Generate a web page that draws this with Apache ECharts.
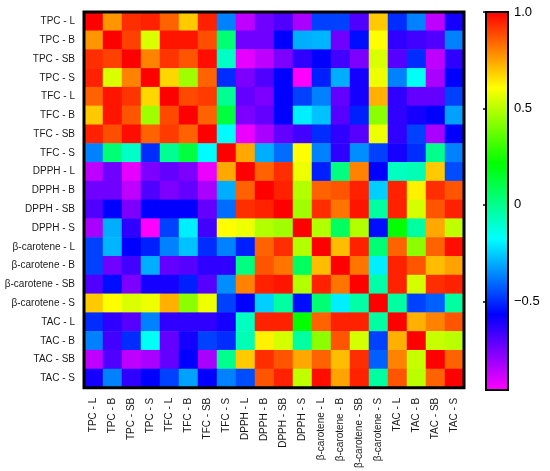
<!DOCTYPE html>
<html>
<head>
<meta charset="utf-8">
<script src="https://cdn.jsdelivr.net/npm/echarts@6/dist/echarts.min.js"></script>
<style>
  html, body { margin: 0; padding: 0; background: #fff; }
  #chart { width: 550px; height: 471px; }
</style>
</head>
<body>
<div id="chart"></div>
<script>
// variables, same order on both axes (top to bottom / left to right)
var labels = [
  'TPC - L', 'TPC - B', 'TPC - SB', 'TPC - S',
  'TFC - L', 'TFC - B', 'TFC - SB', 'TFC - S',
  'DPPH - L', 'DPPH - B', 'DPPH - SB', 'DPPH - S',
  'β-carotene - L', 'β-carotene - B', 'β-carotene - SB', 'β-carotene - S',
  'TAC - L', 'TAC - B', 'TAC - SB', 'TAC - S'
];

// correlation matrix, one row per label
var corr = [
  [1.00, 0.77, 0.93, 0.95, 0.85, 0.69, 0.95, -0.37, -0.86, -0.74, -0.69, -0.83, -0.47, -0.47, -0.69, 0.69, -0.50, -0.37, -0.86, -0.60],
  [0.77, 1.00, 0.90, 0.55, 0.97, 0.97, 0.88, 0.04, -0.74, -0.74, -0.57, -0.30, -0.29, -0.74, -0.55, 0.61, -0.64, -0.67, -0.69, -0.37],
  [0.93, 0.90, 1.00, 0.80, 0.92, 0.87, 0.98, -0.09, -0.92, -0.86, -0.76, -0.64, -0.57, -0.67, -0.76, 0.55, -0.70, -0.50, -0.86, -0.64],
  [0.95, 0.55, 0.80, 1.00, 0.67, 0.46, 0.85, -0.50, -0.76, -0.69, -0.57, -0.96, -0.52, -0.30, -0.60, 0.58, -0.37, -0.16, -0.83, -0.57],
  [0.85, 0.97, 0.92, 0.67, 1.00, 0.89, 0.91, -0.01, -0.72, -0.76, -0.57, -0.47, -0.37, -0.72, -0.60, 0.73, -0.64, -0.72, -0.72, -0.47],
  [0.69, 0.97, 0.87, 0.46, 0.89, 1.00, 0.85, 0.12, -0.76, -0.72, -0.57, -0.20, -0.27, -0.70, -0.52, 0.43, -0.64, -0.60, -0.57, -0.32],
  [0.95, 0.88, 0.98, 0.85, 0.91, 0.85, 1.00, -0.18, -0.93, -0.83, -0.72, -0.67, -0.50, -0.64, -0.70, 0.58, -0.64, -0.47, -0.83, -0.57],
  [-0.37, 0.04, -0.09, -0.50, -0.01, 0.12, -0.18, 1.00, 0.74, -0.30, -0.40, 0.61, -0.37, -0.64, -0.35, -0.47, -0.60, -0.50, 0.00, -0.37],
  [-0.86, -0.74, -0.92, -0.76, -0.72, -0.76, -0.93, 0.74, 1.00, 0.85, 0.93, 0.58, -0.52, 0.02, 0.80, -0.57, -0.08, -0.06, 0.69, -0.45],
  [-0.74, -0.74, -0.86, -0.69, -0.76, -0.72, -0.83, -0.30, 0.85, 1.00, 0.95, 0.49, 0.85, 0.87, 0.95, -0.25, 0.95, 0.63, 0.93, 0.87],
  [-0.69, -0.57, -0.76, -0.57, -0.57, -0.57, -0.72, -0.40, 0.93, 0.95, 1.00, 0.46, 0.93, 0.82, 0.97, -0.03, 0.95, 0.54, 0.87, 0.95],
  [-0.83, -0.30, -0.64, -0.96, -0.47, -0.20, -0.67, 0.61, 0.58, 0.49, 0.46, 1.00, 0.49, 0.07, 0.49, -0.55, 0.22, -0.03, 0.74, 0.51],
  [-0.47, -0.29, -0.57, -0.52, -0.37, -0.27, -0.50, -0.37, -0.52, 0.85, 0.93, 0.49, 1.00, 0.71, 0.95, 0.04, 0.85, 0.43, 0.85, 0.98],
  [-0.47, -0.74, -0.67, -0.30, -0.72, -0.70, -0.64, -0.64, 0.02, 0.87, 0.82, 0.07, 0.71, 1.00, 0.82, -0.20, 0.95, 0.87, 0.71, 0.75],
  [-0.69, -0.55, -0.76, -0.60, -0.60, -0.52, -0.70, -0.35, 0.80, 0.95, 0.97, 0.49, 0.95, 0.82, 1.00, -0.04, 0.95, 0.54, 0.93, 0.95],
  [0.69, 0.61, 0.55, 0.58, 0.73, 0.43, 0.58, -0.47, -0.57, -0.25, -0.03, -0.55, 0.04, -0.20, -0.04, 1.00, -0.03, -0.47, -0.42, -0.03],
  [-0.50, -0.64, -0.70, -0.37, -0.64, -0.64, -0.64, -0.60, -0.08, 0.95, 0.95, 0.22, 0.85, 0.95, 0.95, -0.03, 1.00, 0.73, 0.80, 0.87],
  [-0.37, -0.67, -0.50, -0.16, -0.72, -0.60, -0.47, -0.50, -0.06, 0.63, 0.54, -0.03, 0.43, 0.87, 0.54, -0.47, 0.73, 1.00, 0.52, 0.50],
  [-0.86, -0.69, -0.86, -0.83, -0.72, -0.57, -0.83, 0.00, 0.69, 0.93, 0.87, 0.74, 0.85, 0.71, 0.93, -0.42, 0.80, 0.52, 1.00, 0.85],
  [-0.60, -0.37, -0.64, -0.57, -0.47, -0.32, -0.57, -0.37, -0.45, 0.87, 0.95, 0.51, 0.98, 0.75, 0.95, -0.03, 0.87, 0.50, 0.85, 1.00]
];

// colour scale range and colour bar ticks
var scaleMin = -0.96;
var scaleMax = 1.0;
var barTicks = [-0.5, 0, 0.5, 1.0];
var rainbow = ['#ff00ff', '#0000ff', '#00ffff', '#00ff00', '#ffff00', '#ff0000'];

var font = 'Liberation Sans, Arial, sans-serif';

var cells = [];
for (var i = 0; i < corr.length; i++) {
  for (var j = 0; j < corr[i].length; j++) {
    cells.push([j, i, corr[i][j]]);
  }
}

function tickText(v) {
  if (v === 1) return '1.0';
  if (v === 0) return '0';
  return (v < 0 ? '\u2212' : '') + Math.abs(v);
}

var myChart = echarts.init(document.getElementById('chart'));
var option = {
  animation: false,
  backgroundColor: '#fff',
  grid: [
    { left: 84, top: 12, width: 380, height: 378, show: true, borderColor: '#000', borderWidth: 3, z: 10 },
    // colour bar frame
    { left: 486, top: 12, width: 22, height: 378, show: true, borderColor: '#000', borderWidth: 2, z: 10 }
  ],
  xAxis: [
    {
      type: 'category', gridIndex: 0, data: labels,
      axisLine: { show: false }, axisTick: { show: false }, splitLine: { show: false },
      axisLabel: { rotate: 90, interval: 0, margin: 10, fontSize: 10, fontFamily: font, color: '#1a1a1a' }
    },
    { type: 'value', gridIndex: 1, show: false }
  ],
  yAxis: [
    {
      type: 'category', gridIndex: 0, data: labels, inverse: true,
      axisLine: { show: false }, axisTick: { show: false }, splitLine: { show: false },
      axisLabel: { interval: 0, margin: 9, fontSize: 10, fontFamily: font, color: '#1a1a1a' }
    },
    {
      type: 'value', gridIndex: 1, position: 'right', min: scaleMin, max: scaleMax,
      axisLine: { show: false }, splitLine: { show: false },
      axisTick: { show: true, length: 3, lineStyle: { color: '#000', width: 1.5 }, customValues: barTicks },
      axisLabel: { margin: 6, fontSize: 13, fontFamily: font, color: '#000', customValues: barTicks, formatter: tickText }
    },
    {
      type: 'value', gridIndex: 1, position: 'left', min: scaleMin, max: scaleMax,
      axisLine: { show: false }, splitLine: { show: false },
      axisTick: { show: true, length: 3, lineStyle: { color: '#000', width: 1.5 }, customValues: barTicks },
      axisLabel: { show: false }
    }
  ],
  visualMap: {
    type: 'continuous',
    min: scaleMin,
    max: scaleMax,
    seriesIndex: 0,
    orient: 'vertical',
    left: 486,
    top: 12,
    padding: 0,
    itemWidth: 22,
    itemHeight: 378,
    calculable: false,
    hoverLink: false,
    text: null,
    inRange: { color: rainbow }
  },
  series: [{
    type: 'heatmap',
    xAxisIndex: 0,
    yAxisIndex: 0,
    data: cells,
    itemStyle: { borderWidth: 0 },
    emphasis: { disabled: true }
  }]
};
myChart.setOption(option);
</script>
</body>
</html>
